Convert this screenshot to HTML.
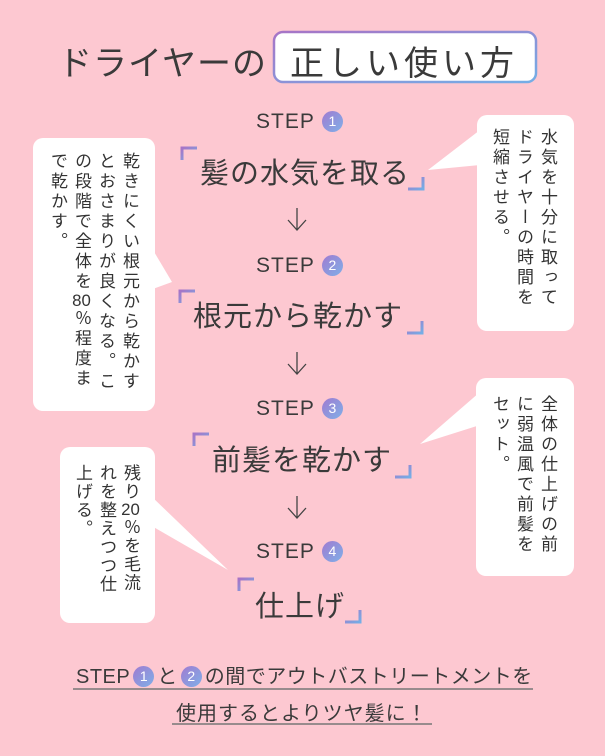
<!DOCTYPE html>
<html><head><meta charset="utf-8"><style>
body{margin:0;width:605px;height:756px;background:#fdc8d1;position:relative;overflow:hidden;font-family:"Liberation Sans","Noto Sans CJK JP",sans-serif;color:#3a3a3a}
.a{position:absolute;white-space:nowrap}
.v{position:absolute;writing-mode:vertical-rl;font-size:17px;line-height:24px;letter-spacing:3px;color:#333;white-space:nowrap}
.n{text-combine-upright:all;letter-spacing:0}
.step{font-size:21px;letter-spacing:1px}
.c{display:inline-block;width:21px;height:21px;border-radius:50%;background:linear-gradient(135deg,#a07ad0,#7fb0e8);color:#fff;font-size:14px;text-align:center;line-height:21px;vertical-align:2px;letter-spacing:0;margin-left:7px}
.t{font-size:29px;letter-spacing:1px}
</style></head><body>
<svg width="605" height="756" style="position:absolute;left:0;top:0">
<defs><linearGradient id="g" x1="0" y1="0" x2="1" y2="1"><stop offset="0" stop-color="#a774c6"/><stop offset="1" stop-color="#74aee6"/></linearGradient></defs>
<rect x="274" y="32" width="262" height="50" rx="9" fill="#fff" stroke="url(#g)" stroke-width="2.5"/>
<rect x="33" y="138" width="122" height="273" rx="10" fill="#fff"/>
<polygon points="150,245 150,290 172,282" fill="#fff"/>
<rect x="477" y="115" width="97" height="216" rx="10" fill="#fff"/>
<polygon points="480,130 480,165 428,170" fill="#fff"/>
<rect x="476" y="378" width="98" height="198" rx="10" fill="#fff"/>
<polygon points="480,392 480,425 420,444" fill="#fff"/>
<rect x="60" y="447" width="95" height="176" rx="10" fill="#fff"/>
<polygon points="150,495 150,525 228,570" fill="#fff"/>
<g fill="none" stroke="url(#g)" stroke-width="3">
<path d="M182,160 V148 H197"/><path d="M408,189 H423 V177"/>
<path d="M180,303 V291 H195"/><path d="M407,333 H422 V321"/>
<path d="M194,446 V434 H209"/><path d="M395,477 H410 V465"/>
<path d="M239,591 V579 H254"/><path d="M345,622 H360 V610"/>
</g>
<g fill="none" stroke="#444" stroke-width="1.3">
<path d="M297,208 V230 M288,220 L297,230 L306,220"/>
<path d="M297,352 V374 M288,364 L297,374 L306,364"/>
<path d="M297,496 V518 M288,508 L297,518 L306,508"/>
</g>
<line x1="73" y1="689" x2="533" y2="689" stroke="#777" stroke-width="1.5"/>
<line x1="172" y1="724" x2="432" y2="724" stroke="#777" stroke-width="1.5"/>
</svg>
<div class="a" style="left:58px;top:36px;font-size:34px;letter-spacing:1px">ドライヤーの</div>
<div class="a" style="left:290px;top:36px;font-size:34px;letter-spacing:4px">正しい使い方</div>

<div class="a step" style="left:256px;top:110px">STEP<span class="c">1</span></div>
<div class="a t" style="left:200px;top:150px">髪の水気を取る</div>
<div class="a step" style="left:256px;top:254px">STEP<span class="c">2</span></div>
<div class="a t" style="left:193px;top:293px">根元から乾かす</div>
<div class="a step" style="left:256px;top:397px">STEP<span class="c">3</span></div>
<div class="a t" style="left:212px;top:437px">前髪を乾かす</div>
<div class="a step" style="left:256px;top:540px">STEP<span class="c">4</span></div>
<div class="a t" style="left:255px;top:583px">仕上げ</div>

<div class="v" style="left:45px;top:152px">乾きにくい根元から乾かす<br>とおさまりが良くなる。こ<br>の段階で全体を<span class="n">80</span>％程度ま<br>で乾かす。</div>
<div class="v" style="left:487px;top:128px">水気を十分に取って<br>ドライヤーの時間を<br>短縮させる。</div>
<div class="v" style="left:487px;top:395px">全体の仕上げの前<br>に弱温風で前髪を<br>セット。</div>
<div class="v" style="left:70px;top:464px;letter-spacing:1.5px">残り<span class="n">20</span>％を毛流<br>れを整えつつ仕<br>上げる。</div>

<div class="a" style="left:76px;top:660px;font-size:20px;letter-spacing:0.5px">STEP<span class="c" style="margin:0 3px 0 3px">1</span>と<span class="c" style="margin:0 3px">2</span>の間でアウトバストリートメントを</div>
<div class="a" style="left:176px;top:697px;font-size:20px;letter-spacing:1px">使用するとよりツヤ髪に！</div>
</body></html>
